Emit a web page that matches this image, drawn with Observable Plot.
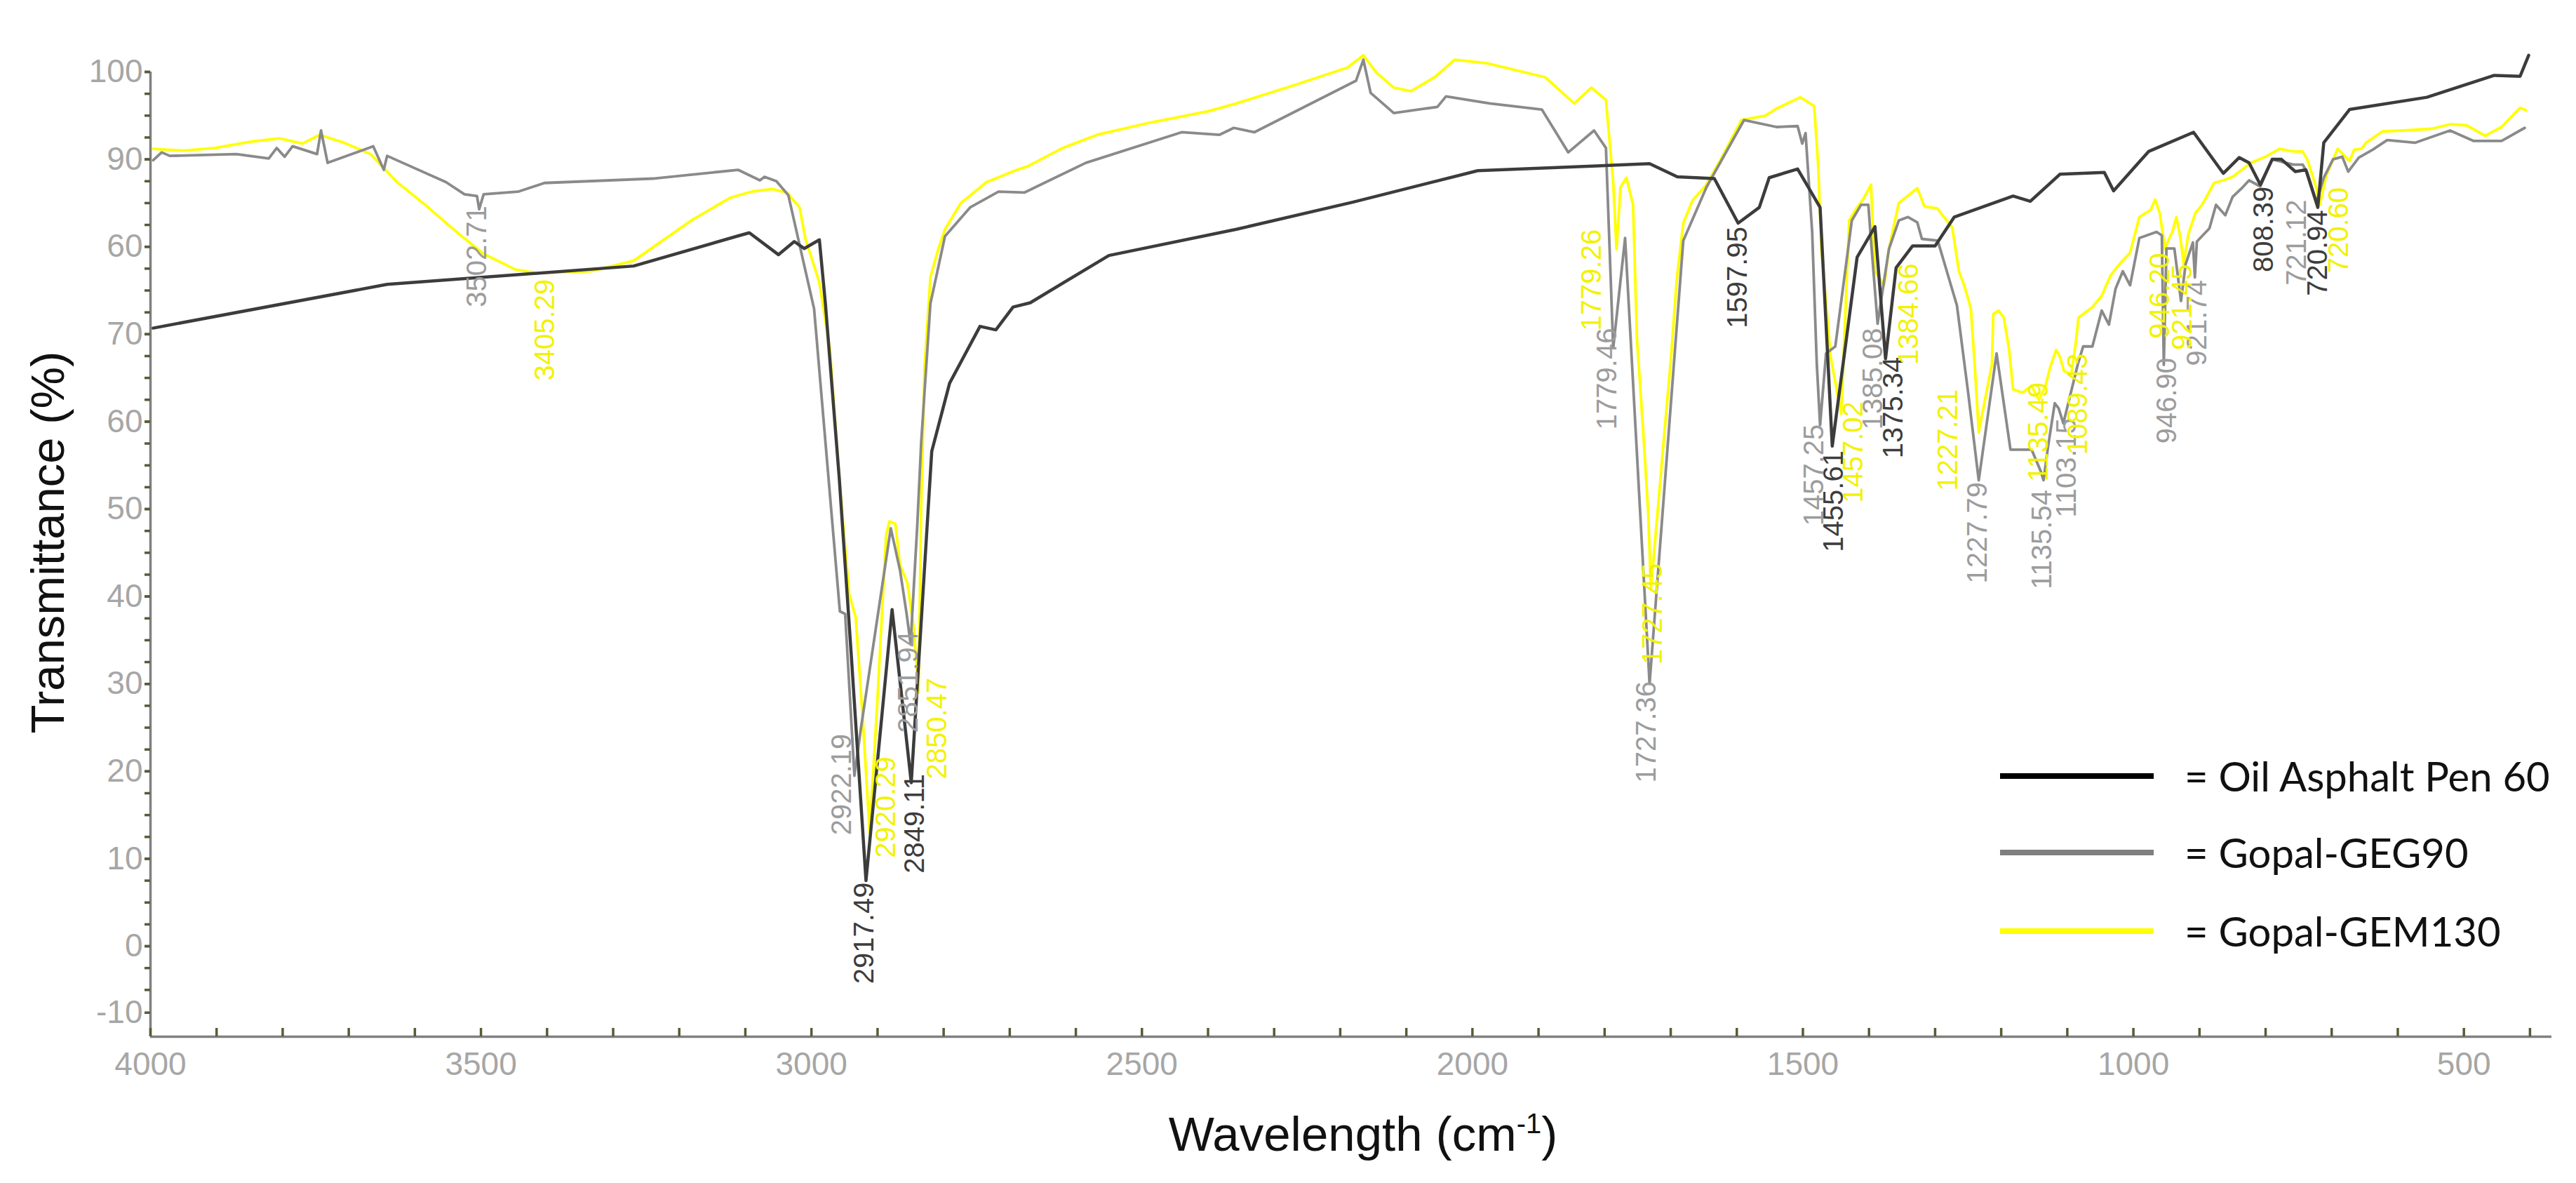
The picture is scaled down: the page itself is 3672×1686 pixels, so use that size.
<!DOCTYPE html>
<html>
<head>
<meta charset="utf-8">
<script src="https://cdn.jsdelivr.net/npm/d3@7"></script>
<script src="https://cdn.jsdelivr.net/npm/@observablehq/plot@0.6"></script>
<style>
  html, body { margin: 0; padding: 0; background: #ffffff; }
  #wrap { position: relative; width: 3672px; height: 1686px; overflow: hidden; background: #ffffff; }
  #wrap svg { position: absolute; left: 0; top: 0; }
  .axis-title { position: absolute; white-space: nowrap; font-family: "Liberation Sans", Arial, sans-serif; color: #111; line-height: 1; }
  .axis-title sup { font-size: 0.58em; vertical-align: 0.62em; line-height: 0; }
  .legend-line { position: absolute; height: 8px; }
  .legend-text { position: absolute; white-space: nowrap; font-family: Lato, "Open Sans", sans-serif; font-size: 58px; color: #111; line-height: 1; transform: translateY(-50%); }
</style>
</head>
<body>
<div id="wrap"></div>
<script>
// ---------------- axis ticks ----------------
const xMajorTicks = [4000, 3500, 3000, 2500, 2000, 1500, 1000, 500];
const xMinorTicks = d3.range(400, 4001, 100);
const yMajorTicks = [100, 90, 80, 70, 60, 50, 40, 30, 20, 10, 0, -7.6];
const yTickLabels = ["100", "90", "60", "70", "60", "50", "40", "30", "20", "10", "0", "-10"];
const yMinorTicks = d3.range(-5, 100.01, 2.5);
const xDomain = [4000, 367];
const yDomain = [-10.35, 100];

// ---------------- series ----------------
const seriesNames = ["Oil Asphalt Pen 60", "Gopal-GEG90", "Gopal-GEM130"];

const oilWn = [3996, 3642, 3269, 3113, 3094, 3050, 3026, 3011, 2988, 2979, 2958, 2940, 2917.5, 2878, 2849, 2818, 2791, 2745, 2721, 2695, 2669, 2550, 2357, 2181, 1992, 1732, 1690, 1634, 1598, 1566, 1551, 1508, 1474, 1455.6, 1418, 1391, 1375, 1359, 1334, 1300, 1271, 1182, 1156, 1111, 1044, 1030, 977, 909, 864, 840, 825, 808, 790, 776, 755, 739, 721, 712, 673, 556, 454, 415, 402];
const oilT = [70.7, 75.7, 77.8, 81.2, 81.6, 79.1, 80.6, 79.8, 80.8, 73.6, 53.6, 33.6, 7.5, 38.5, 18.7, 56.6, 64.4, 70.9, 70.5, 73.1, 73.6, 79.0, 82.0, 85.1, 88.7, 89.5, 88.0, 87.8, 82.7, 84.5, 87.9, 88.9, 84.5, 57.2, 78.8, 82.3, 67.2, 77.6, 80.1, 80.1, 83.4, 85.8, 85.2, 88.3, 88.5, 86.4, 90.9, 93.1, 88.4, 90.2, 89.6, 87.1, 90.0, 90.0, 88.6, 88.8, 84.5, 91.9, 95.7, 97.1, 99.6, 99.5, 101.9];

const gegWn = [3996, 3983, 3971, 3870, 3821, 3809, 3797, 3785, 3748, 3742, 3732, 3663, 3647, 3642, 3553, 3525, 3506, 3502.7, 3496, 3444, 3404, 3240, 3111, 3078, 3071, 3053, 3035, 2996, 2957, 2949, 2935, 2925, 2880, 2866, 2856, 2850, 2840, 2834, 2820, 2798, 2760, 2717, 2678, 2585, 2440, 2383, 2361, 2330, 2176, 2165, 2154, 2119, 2053, 2040, 1974, 1895, 1855, 1816, 1798, 1787, 1769, 1732, 1681, 1646, 1589, 1540, 1508, 1501, 1496, 1486, 1479, 1474, 1465, 1451, 1426, 1412, 1401, 1398, 1387, 1370, 1355, 1341, 1327, 1320, 1296, 1267, 1250, 1234, 1207, 1186, 1154, 1140, 1136, 1129, 1119, 1113, 1106, 1084, 1076, 1062, 1048, 1037, 1027, 1016, 1005, 991, 965, 957, 954, 950, 938, 928, 921, 910, 907, 904, 885, 875, 861, 850, 836, 825, 808, 790, 758, 744, 737, 723, 712, 698, 684, 675, 659, 638, 616, 574, 521, 485, 443, 408];
const gegT = [89.9, 90.8, 90.4, 90.6, 90.1, 91.3, 90.3, 91.5, 90.6, 93.3, 89.6, 91.5, 88.8, 90.4, 87.4, 86.0, 85.8, 84.3, 86.0, 86.3, 87.3, 87.8, 88.8, 87.6, 88.0, 87.5, 85.9, 72.9, 38.3, 38.0, 19.5, 25.0, 47.8, 43.0, 38.0, 34.6, 48.0, 57.6, 73.5, 81.2, 84.5, 86.3, 86.2, 89.6, 93.1, 92.8, 93.6, 93.1, 99.0, 101.4, 97.6, 95.3, 96.0, 97.2, 96.4, 95.7, 90.8, 93.3, 91.3, 68.4, 81.0, 30.0, 80.7, 86.8, 94.5, 93.7, 93.8, 91.8, 93.0, 81.7, 66.6, 59.6, 67.8, 68.6, 83.0, 84.8, 84.8, 81.7, 71.2, 79.7, 83.0, 83.4, 82.8, 80.9, 80.7, 73.3, 63.3, 53.3, 67.8, 56.8, 56.8, 54.3, 53.3, 57.2, 62.1, 61.5, 59.8, 66.6, 68.6, 68.6, 72.7, 71.1, 75.2, 77.2, 75.6, 81.0, 81.7, 81.3, 66.5, 79.8, 79.8, 73.8, 78.0, 80.5, 76.5, 80.6, 82.1, 84.8, 83.6, 85.7, 86.7, 87.6, 86.9, 90.0, 89.4, 89.4, 88.5, 85.1, 87.9, 90.0, 90.3, 88.6, 90.2, 91.1, 92.2, 91.9, 93.3, 92.1, 92.1, 93.6];

const gemWn = [3996, 3950, 3902, 3850, 3805, 3770, 3744, 3707, 3667, 3627, 3586, 3537, 3496, 3448, 3415, 3334, 3269, 3180, 3123, 3091, 3060, 3037, 3018, 3009, 2988, 2972, 2958, 2943, 2933, 2922, 2912, 2901, 2887, 2882, 2873, 2866, 2855, 2845, 2838, 2834, 2829, 2820, 2809, 2798, 2774, 2735, 2689, 2673, 2620, 2568, 2488, 2400, 2357, 2269, 2189, 2165, 2145, 2119, 2093, 2057, 2027, 1978, 1890, 1846, 1820, 1798, 1787, 1782, 1776, 1767, 1757, 1751, 1741, 1734, 1730, 1720, 1709, 1700, 1691, 1681, 1667, 1646, 1625, 1593, 1557, 1540, 1504, 1483, 1477, 1472, 1458, 1448, 1442, 1436, 1430, 1419, 1409, 1397, 1391, 1377, 1370, 1355, 1327, 1316, 1297, 1274, 1264, 1256, 1246, 1240, 1234, 1214, 1212, 1204, 1196, 1188, 1182, 1168, 1154, 1143, 1133, 1126, 1117, 1111, 1105, 1094, 1087, 1083, 1062, 1048, 1034, 1020, 1005, 991, 974, 967, 960, 952, 948, 941, 935, 929, 924, 917, 906, 896, 878, 864, 850, 836, 822, 800, 779, 758, 744, 737, 723, 718, 708, 691, 673, 666, 655, 648, 623, 591, 549, 521, 496, 468, 443, 415, 406];
const gemT = [91.2, 91.0, 91.3, 92.0, 92.4, 91.8, 92.8, 91.9, 90.6, 87.4, 84.9, 81.7, 79.2, 77.4, 77.0, 77.2, 78.4, 83.1, 85.6, 86.3, 86.6, 86.2, 84.5, 80.9, 75.9, 68.2, 53.6, 40.3, 37.6, 25.6, 13.0, 27.0, 47.0, 48.6, 48.3, 43.6, 41.6, 36.3, 29.0, 50.0, 66.0, 76.5, 79.5, 82.0, 85.0, 87.4, 88.8, 89.2, 91.3, 92.8, 94.2, 95.5, 96.4, 98.5, 100.5, 101.9, 99.9, 98.2, 97.8, 99.4, 101.4, 101.0, 99.4, 96.4, 98.2, 96.8, 87.4, 79.7, 86.8, 87.9, 84.8, 69.4, 58.2, 49.5, 40.8, 49.5, 59.2, 66.9, 76.1, 82.7, 85.3, 87.1, 89.9, 94.5, 95.0, 95.8, 97.1, 96.1, 89.5, 79.7, 67.4, 63.3, 60.9, 72.0, 83.0, 84.4, 85.4, 87.1, 77.2, 75.6, 79.7, 85.0, 86.7, 84.6, 84.4, 82.2, 77.2, 75.6, 73.0, 66.4, 58.8, 66.6, 72.3, 72.7, 71.9, 68.2, 63.7, 63.3, 64.1, 62.5, 64.1, 66.2, 68.2, 67.4, 65.8, 65.4, 69.1, 71.9, 73.1, 74.4, 76.8, 78.1, 79.3, 83.4, 84.2, 85.4, 83.8, 79.7, 80.6, 81.7, 83.4, 81.1, 78.0, 81.4, 83.9, 84.8, 87.3, 87.6, 88.0, 88.8, 89.6, 90.3, 91.2, 90.9, 90.9, 90.0, 86.7, 84.8, 88.2, 91.2, 89.8, 91.1, 91.2, 91.9, 93.2, 93.3, 93.5, 94.0, 93.9, 92.7, 93.7, 95.9, 95.6];

// ---------------- peak annotations (series index, text, wavenumber, transmittance of label tip) ----------------
const peakSeries = [0, 0, 0, 0, 0, 0, 0,
  1, 1, 1, 1, 1, 1, 1, 1, 1, 1, 1, 1, 1,
  2, 2, 2, 2, 2, 2, 2, 2, 2, 2, 2, 2, 2];
const peakText = ["2917.49", "2849.11", "1597.95", "1455.61", "1375.34", "808.39", "720.94",
  "3502.71", "2922.19", "2851.94", "1779.46", "1727.36", "1457.25", "1385.08", "1227.79", "1135.54", "1103.15", "946.90", "921.74", "721.12",
  "3405.29", "2920.29", "2850.47", "1779.26", "1727.45", "1457.02", "1384.66", "1227.21", "1135.49", "1089.43", "946.20", "921.45", "720.60"];
const peakWn = [2920, 2843, 1598, 1453, 1363, 802, 721,
  3506, 2954, 2853, 1796, 1737, 1483, 1394, 1235, 1138, 1101, 948.5, 903, 752.6,
  3403, 2887, 2809, 1819, 1727, 1423, 1340, 1280, 1143, 1083.6, 959.5, 925.8, 689];
const peakT = [7.3, 19.7, 82.3, 56.7, 67.4, 86.9, 84.2,
  84.7, 24.3, 36.0, 70.7, 30.3, 59.7, 70.7, 53.1, 52.2, 60.4, 67.3, 76.2, 85.4,
  76.3, 21.7, 30.7, 82.0, 43.8, 62.3, 78.1, 63.7, 64.5, 67.8, 79.3, 78.0, 86.8];

// ---------------- styles ----------------
const lineColors = ["#3c3c3c", "#8a8a8a", "#ffff00"];
const lineWidths = [4.5, 3.8, 3.8];
const labelColors = ["#3d3d3d", "#9c9c9c", "#f2f200"];
const legendColors = ["#000000", "#7f7f7f", "#ffff00"];
const tickColor = "#5a5a38";
const axisColor = "#808080";
const tickLabelColor = "#a6a6a6";

function zip(wn, t) {
  const n = Math.min(wn.length, t.length);
  return d3.range(n).map(i => ({wn: wn[i], t: t[i]}));
}
const seriesData = [zip(oilWn, oilT), zip(gegWn, gegT), zip(gemWn, gemT)];
const peaks = d3.range(Math.min(peakSeries.length, peakText.length, peakWn.length, peakT.length))
  .map(i => ({s: peakSeries[i], label: peakText[i], wn: peakWn[i], t: peakT[i]}));
const yLabelMap = new Map(yMajorTicks.map((v, i) => [v, yTickLabels[i]]));

const chart = Plot.plot({
  width: 3672,
  height: 1686,
  marginTop: 102,
  marginBottom: 209,
  marginLeft: 214,
  marginRight: 35,
  style: {background: "#ffffff", fontFamily: "'Liberation Sans', Arial, sans-serif", overflow: "visible"},
  x: {domain: xDomain},
  y: {domain: yDomain},
  marks: [
    // axis lines
    Plot.ruleX([xDomain[0]], {y1: yDomain[0], y2: d3.max(yMajorTicks), stroke: axisColor, strokeWidth: 3.5}),
    Plot.ruleY([yDomain[0]], {x1: xDomain[0], x2: xDomain[1], stroke: axisColor, strokeWidth: 3.5}),
    // y ticks (outward) and labels
    Plot.axisY({ticks: yMinorTicks, tickSize: 8, stroke: tickColor, strokeWidth: 3.5, fill: "none", label: null}),
    Plot.axisY({ticks: yMajorTicks, tickSize: 8, tickPadding: 3, stroke: tickColor, strokeWidth: 3.5,
      tickFormat: d => yLabelMap.get(d), fill: tickLabelColor, fontSize: 46, label: null}),
    // x ticks (inward) and labels
    Plot.axisX({ticks: xMinorTicks, tickSize: 12, dy: -12, stroke: tickColor, strokeWidth: 3.5, fill: "none", label: null}),
    Plot.axisX({ticks: xMajorTicks, tickSize: 0, tickPadding: 22, tickFormat: d => String(d),
      fill: tickLabelColor, fontSize: 46, label: null}),
    // spectra
    ...[2, 1, 0].map(s => Plot.line(seriesData[s], {
      x: "wn", y: "t", stroke: lineColors[s], strokeWidth: lineWidths[s],
      strokeLinejoin: "round", strokeLinecap: "round"
    })),
    // peak labels
    ...[0, 1, 2].map(s => Plot.text(peaks.filter(p => p.s === s), {
      x: "wn", y: "t", text: "label", rotate: -90, textAnchor: "end",
      fill: labelColors[s], fontSize: 40
    }))
  ]
});

const wrap = document.getElementById("wrap");
wrap.appendChild(chart);

// axis titles
const xt = document.createElement("div");
xt.className = "axis-title";
xt.style.fontSize = "69px";
xt.style.left = "1943px";
xt.style.top = "1616px";
xt.style.transform = "translate(-50%, -50%)";
xt.innerHTML = "Wavelength (cm<sup>-1</sup>)";
wrap.appendChild(xt);

const yt = document.createElement("div");
yt.className = "axis-title";
yt.style.fontSize = "67px";
yt.style.left = "67px";
yt.style.top = "773px";
yt.style.transform = "translate(-50%, -50%) rotate(-90deg)";
yt.textContent = "Transmittance (%)";
wrap.appendChild(yt);

// legend
const legendCenters = [1106, 1215, 1327];
seriesNames.forEach((name, i) => {
  const ln = document.createElement("div");
  ln.className = "legend-line";
  ln.style.left = "2851px";
  ln.style.width = "219px";
  ln.style.top = (legendCenters[i] - 4) + "px";
  ln.style.background = legendColors[i];
  wrap.appendChild(ln);
  const tx = document.createElement("div");
  tx.className = "legend-text";
  tx.style.left = "3114px";
  tx.style.top = legendCenters[i] + "px";
  tx.textContent = "= " + name;
  wrap.appendChild(tx);
});
</script>
</body>
</html>
